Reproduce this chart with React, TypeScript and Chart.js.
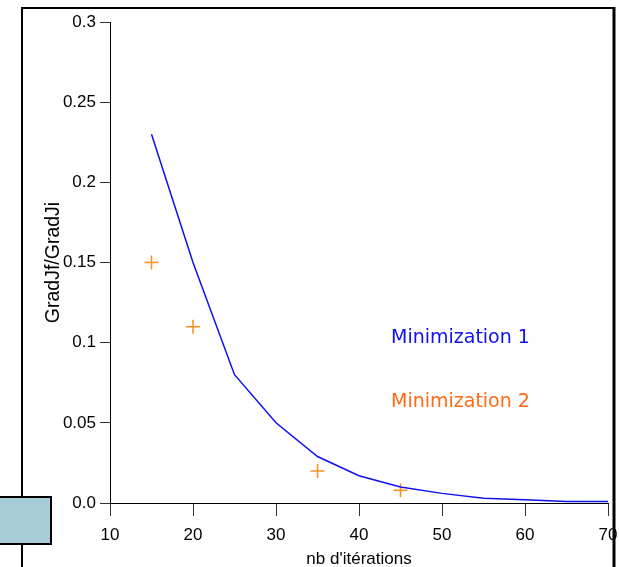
import React, { useEffect, useRef } from "react";
import { Chart, registerables } from "chart.js";

Chart.register(...registerables);

const iterations1 = [15, 20, 25, 30, 35, 40, 45, 50, 55, 60, 65, 70];
const ratio1 = [0.23, 0.15, 0.08, 0.05, 0.029, 0.017, 0.01, 0.006, 0.003, 0.002, 0.001, 0.001];
const iterations2 = [15, 20, 35, 45];
const ratio2 = [0.15, 0.11, 0.02, 0.008];
const yTickLabels = ["0.0", "0.05", "0.1", "0.15", "0.2", "0.25", "0.3"];
const seriesNames = ["Minimization 1", "Minimization 2"];
const xTitle = "nb d'itérations";
const yTitle = "GradJf/GradJi";

const W = 619;
const H = 567;

const decorPlugin = {
  id: "decor",
  beforeDraw(chart: any) {
    const ctx = chart.ctx;
    ctx.save();
    ctx.fillStyle = "#ffffff";
    ctx.fillRect(0, 0, W, H);
    ctx.strokeStyle = "#000";
    ctx.lineWidth = 2;
    ctx.beginPath();
    ctx.moveTo(22, H);
    ctx.lineTo(22, 8);
    ctx.lineTo(614, 8);
    ctx.stroke();
    ctx.lineWidth = 3;
    ctx.beginPath();
    ctx.moveTo(614, 7);
    ctx.lineTo(614, H);
    ctx.stroke();
    ctx.restore();
  },
  afterDraw(chart: any) {
    const ctx = chart.ctx;
    ctx.save();
    // light blue box on the left
    ctx.fillStyle = "#a8cdd9";
    ctx.fillRect(-2, 497, 53, 47);
    ctx.strokeStyle = "#000";
    ctx.lineWidth = 2;
    ctx.strokeRect(-2, 497, 53, 47);
    // series labels
    ctx.font = '19px "DejaVu Sans"';
    ctx.textBaseline = "alphabetic";
    ctx.textAlign = "left";
    ctx.fillStyle = "#1010ee";
    ctx.fillText(seriesNames[0], 391, 343);
    ctx.fillStyle = "#ff6a13";
    ctx.fillText(seriesNames[1], 391, 407);
    ctx.restore();
  },
};

export default function App() {
  const ref = useRef<HTMLCanvasElement | null>(null);
  useEffect(() => {
    if (!ref.current) return;
    const chart = new Chart(ref.current, {
      type: "line",
      data: {
        datasets: [
          {
            label: seriesNames[0],
            data: iterations1.map((x, i) => ({ x, y: ratio1[i] })),
            borderColor: "#1010ee",
            borderWidth: 1.5,
            pointRadius: 0,
            tension: 0,
            fill: false,
          },
          {
            label: seriesNames[1],
            data: iterations2.map((x, i) => ({ x, y: ratio2[i] })),
            showLine: false,
            borderColor: "#f7901e",
            backgroundColor: "#f7901e",
            pointStyle: "cross",
            pointRadius: 7,
            pointBorderWidth: 1.5,
          },
        ],
      },
      plugins: [decorPlugin],
      options: {
        animation: false,
        responsive: false,
        devicePixelRatio: 1,
        layout: { padding: { left: 0, top: 22, right: 11, bottom: 0 } },
        plugins: { legend: { display: false }, tooltip: { enabled: false } },
        scales: {
          x: {
            type: "linear",
            min: 10,
            max: 70,
            afterFit: (s: any) => {
              s.height = 64;
              s.paddingLeft = 0;
              s.paddingRight = 0;
            },
            border: { display: true, color: "#000", width: 1 },
            grid: {
              display: true,
              drawOnChartArea: false,
              drawTicks: true,
              tickLength: 13,
              tickColor: "#333",
            },
            ticks: {
              stepSize: 10,
              color: "#000",
              padding: 9,
              maxRotation: 0,
              font: { family: '"Liberation Sans", Arial, sans-serif', size: 17 },
            },
            title: {
              display: true,
              text: xTitle,
              color: "#000",
              font: { family: '"Liberation Sans", Arial, sans-serif', size: 17 },
              padding: { top: 0, bottom: -3 },
            },
          },
          y: {
            type: "linear",
            min: 0,
            max: 0.3,
            afterFit: (s: any) => {
              s.width = 110;
              s.paddingTop = 0;
              s.paddingBottom = 0;
            },
            border: { display: true, color: "#000", width: 1 },
            grid: {
              display: true,
              drawOnChartArea: false,
              drawTicks: true,
              tickLength: 10,
              tickColor: "#333",
            },
            ticks: {
              stepSize: 0.05,
              color: "#000",
              padding: 4,
              font: { family: '"Liberation Sans", Arial, sans-serif', size: 17 },
              callback: (_v: any, i: number) => yTickLabels[i],
            },
            title: {
              display: true,
              text: yTitle,
              color: "#000",
              font: { family: '"Liberation Sans", Arial, sans-serif', size: 19.5 },
              padding: { top: 42, bottom: 0 },
            },
          },
        },
      },
    });
    return () => chart.destroy();
  }, []);
  return (
    <div style={{ position: "absolute", left: 0, top: 0, width: W, height: H }}>
      <canvas ref={ref} width={W} height={H} style={{ width: W, height: H, display: "block" }} />
    </div>
  );
}
